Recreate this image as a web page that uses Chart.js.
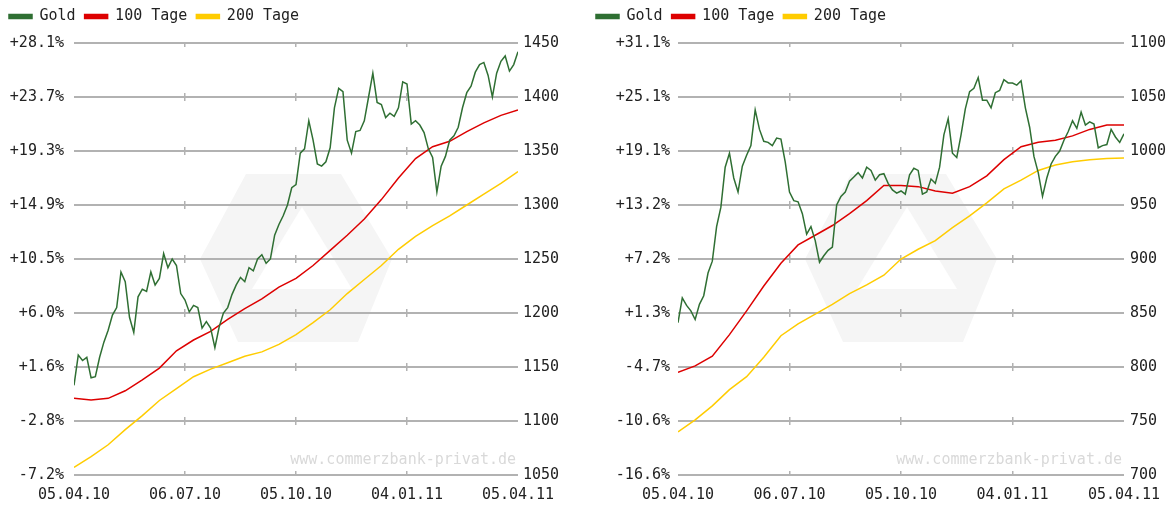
<!DOCTYPE html>
<html lang="de">
<head>
<meta charset="utf-8">
<title>Gold 1 Jahr</title>
<script src="https://cdn.jsdelivr.net/npm/chart.js@4.4.1/dist/chart.umd.min.js"></script>
<style>
    html, body { margin: 0; padding: 0; background: #fff; }
    #wrap { position: relative; width: 1175px; height: 505px; }
    .box { position: absolute; top: 0; height: 505px; }
    #boxUsd { left: 0; width: 587px; }
    #boxEur { left: 587px; width: 588px; }
</style>
</head>
<body>
<div id="wrap">
    <div class="box" id="boxUsd"><canvas id="chartUsd" width="587" height="505"></canvas></div>
    <div class="box" id="boxEur"><canvas id="chartEur" width="588" height="505"></canvas></div>
</div>
<script>
// x = Punkt-Index (0 = 05.04.10 ... 104 = 05.04.11), Gold ca. alle 3,5 Tage,
// gleitende Durchschnitte an jedem 4. Index
const tickIdx = [0, 26, 52, 78, 104];
const datumLabels = ['05.04.10', '06.07.10', '05.10.10', '04.01.11', '05.04.11'];
const maSchritt = 4;

// linkes Chart (Kurs 1050 - 1450)
const goldUsd = [
    1133, 1161, 1156, 1159, 1140, 1141, 1159, 1173, 1184, 1198,
    1205, 1238, 1229, 1196, 1182, 1215, 1222, 1220, 1238, 1226,
    1232, 1255, 1242, 1250, 1244, 1218, 1212, 1201, 1207, 1205,
    1186, 1192, 1186, 1168, 1187, 1200, 1205, 1217, 1226, 1233,
    1229, 1242, 1239, 1250, 1254, 1246, 1250, 1272, 1282, 1290,
    1300, 1316, 1319, 1348, 1352, 1378, 1360, 1338, 1336, 1340,
    1353, 1390, 1408, 1405, 1360, 1348, 1368, 1369, 1378, 1400,
    1422, 1395, 1393, 1381, 1385, 1382, 1390, 1414, 1412, 1375,
    1378, 1374, 1367, 1352, 1344, 1312, 1336, 1345, 1360, 1364,
    1372, 1390, 1404, 1410, 1423, 1430, 1432, 1420, 1400, 1422,
    1433, 1438, 1424, 1430, 1442
];
const ma100Usd = [1121, 1119.5, 1121, 1128, 1138, 1149, 1165, 1175, 1183, 1194, 1204, 1213, 1224,
    1232, 1244, 1258, 1272, 1287, 1305, 1325, 1343, 1354, 1359, 1368, 1376, 1383, 1388];
const ma200Usd = [1057, 1067, 1078, 1092, 1105, 1119, 1130, 1141, 1148, 1154, 1160, 1164, 1171,
    1180, 1191, 1203, 1218, 1231, 1244, 1259, 1271, 1281, 1290, 1300, 1310, 1320, 1331];
const pctUsd = ['-7.2%', '-2.8%', '+1.6%', '+6.0%', '+10.5%', '+14.9%', '+19.3%', '+23.7%', '+28.1%'];

// rechtes Chart (Kurs 700 - 1100)
const goldEur = [
    841, 864, 857, 852, 844, 858, 866, 887, 898, 930,
    948, 985, 998, 975, 962, 986, 996, 1005, 1038, 1020,
    1009, 1008, 1005, 1012, 1011, 990, 962, 954, 953, 942,
    923, 930, 917, 897, 903, 908, 911, 950, 958, 962,
    972, 976, 980, 975, 985, 982, 973, 978, 979, 970,
    964, 961, 963, 960, 978, 984, 982, 960, 962, 974,
    970, 985, 1015, 1030, 998, 994, 1015, 1039, 1055, 1058,
    1068, 1047, 1047, 1040, 1054, 1056, 1066, 1063, 1063, 1061,
    1065, 1040, 1022, 995, 980, 958, 975, 988, 995, 1000,
    1010, 1018, 1028, 1021, 1036, 1024, 1027, 1025, 1003, 1005,
    1006, 1020, 1013, 1008, 1016
];
const ma100Eur = [795, 801, 810, 830, 852, 875, 896, 913, 922, 931, 942, 954, 968,
    968, 967, 963, 961, 967, 977, 992, 1004, 1008, 1010, 1014, 1020, 1024, 1024];
const ma200Eur = [740, 751, 764, 779, 791, 809, 829, 840, 849, 858, 868, 876, 885,
    900, 909, 917, 929, 940, 952, 965, 973, 982, 987, 990, 992, 993, 993.5];
const pctEur = ['-16.6%', '-10.6%', '-4.7%', '+1.3%', '+7.2%', '+13.2%', '+19.1%', '+25.1%', '+31.1%'];

const schrift = "'DejaVu Sans Mono', 'Liberation Mono', monospace";
const grau = '#b2b2b2';
Chart.defaults.font.family = schrift;
Chart.defaults.font.size = 15;
Chart.defaults.color = '#222';

// Legende immer gleich hoch, damit die Plotfläche bei y=43 beginnt
const legendeHoehe = {
    id: 'legendeHoehe',
    beforeInit(chart) {
        const fit = chart.legend.fit;
        chart.legend.fit = function () {
            fit.call(this);
            this.height = 43;
        };
    }
};

// blasses Logo + Schriftzug im Hintergrund
const wasserzeichen = {
    id: 'wasserzeichen',
    beforeDraw(chart) {
        const a = chart.chartArea;
        const ctx = chart.ctx;
        const cx = (a.left + a.right) / 2;
        const cy = (a.top + a.bottom) / 2;
        ctx.save();
        ctx.fillStyle = '#f5f5f5';
        ctx.beginPath();
        [[-50, -85], [45, -85], [96, 0], [62, 83], [-58, 83], [-96, 0]].forEach(([dx, dy], i) => {
            if (i === 0) ctx.moveTo(cx + dx, cy + dy);
            else ctx.lineTo(cx + dx, cy + dy);
        });
        ctx.closePath();
        ctx.fill();
        ctx.fillStyle = '#ffffff';
        ctx.beginPath();
        ctx.moveTo(cx + 6, cy - 52);
        ctx.lineTo(cx + 56, cy + 30);
        ctx.lineTo(cx - 44, cy + 30);
        ctx.closePath();
        ctx.fill();
        ctx.font = '15px ' + schrift;
        ctx.fillStyle = '#d9d9d9';
        ctx.textAlign = 'right';
        ctx.textBaseline = 'middle';
        ctx.fillText('www.commerzbank-privat.de', a.right - 2, a.bottom - 15);
        ctx.restore();
    }
};

function baueChart(id, cfg) {
    const punkte = (werte, schritt) => werte.map((v, i) => ({ x: i * schritt, y: v }));
    return new Chart(document.getElementById(id), {
        type: 'line',
        data: {
            datasets: [{
                label: 'Gold',
                data: punkte(cfg.gold, 1),
                borderColor: '#2f6f33',
                backgroundColor: '#2f6f33'
            }, {
                label: '100 Tage',
                data: punkte(cfg.ma100, maSchritt),
                borderColor: '#dd0000',
                backgroundColor: '#dd0000'
            }, {
                label: '200 Tage',
                data: punkte(cfg.ma200, maSchritt),
                borderColor: '#ffcc00',
                backgroundColor: '#ffcc00'
            }]
        },
        options: {
            responsive: false,
            animation: false,
            layout: { padding: 0 },
            elements: {
                point: { radius: 0 },
                line: { borderWidth: 1.5, tension: 0 }
            },
            plugins: {
                legend: {
                    align: 'start',
                    labels: { boxWidth: 23, boxHeight: 4, padding: 9 }
                },
                tooltip: { enabled: false }
            },
            scales: {
                x: {
                    type: 'linear',
                    min: 0,
                    max: 104,
                    afterBuildTicks: s => { s.ticks = tickIdx.map(v => ({ value: v })); },
                    afterFit: s => { s.height = 30; },
                    ticks: {
                        callback: (v, i) => datumLabels[i],
                        padding: 11,
                        maxRotation: 0,
                        autoSkip: false
                    },
                    grid: {
                        drawTicks: false,
                        lineWidth: 1.5,
                        color: c => (c.index === 0 || c.index === tickIdx.length - 1) ? 'rgba(0,0,0,0)' : grau
                    },
                    border: { display: false, dash: [8, 46], dashOffset: 4 }
                },
                y: {
                    position: 'left',
                    min: cfg.min,
                    max: cfg.max,
                    afterFit: s => { s.width = cfg.breiteL; },
                    ticks: {
                        stepSize: 50,
                        padding: cfg.abstandL,
                        callback: (v, i) => cfg.pct[i]
                    },
                    grid: { drawTicks: false, lineWidth: 2, color: grau },
                    border: { display: false }
                },
                y2: {
                    position: 'right',
                    min: cfg.min,
                    max: cfg.max,
                    afterFit: s => { s.width = cfg.breiteR; },
                    ticks: {
                        stepSize: 50,
                        padding: cfg.abstandR,
                        callback: v => String(v)
                    },
                    grid: { display: false, drawTicks: false },
                    border: { display: false }
                }
            }
        },
        plugins: [legendeHoehe, wasserzeichen]
    });
}

baueChart('chartUsd', {
    gold: goldUsd, ma100: ma100Usd, ma200: ma200Usd, pct: pctUsd,
    min: 1050, max: 1450, breiteL: 74, abstandL: 10, breiteR: 69, abstandR: 5
});
baueChart('chartEur', {
    gold: goldEur, ma100: ma100Eur, ma200: ma200Eur, pct: pctEur,
    min: 700, max: 1100, breiteL: 91, abstandL: 8, breiteR: 51, abstandR: 6
});
</script>
</body>
</html>
